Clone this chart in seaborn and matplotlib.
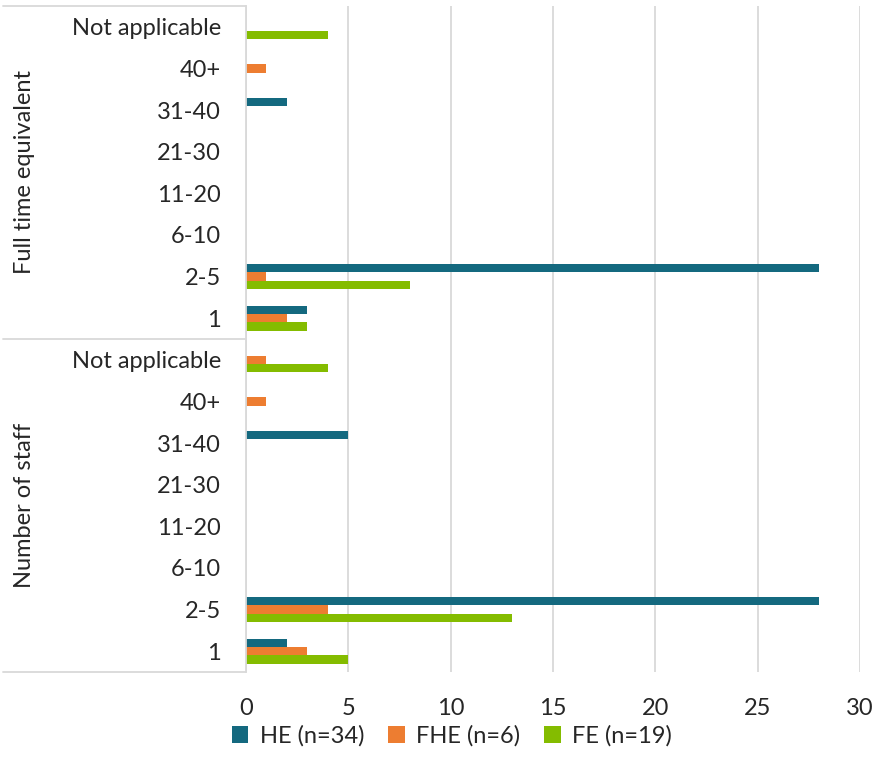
"""Grouped horizontal bar chart: staff numbers and FTE by institution type."""

import matplotlib
matplotlib.use("Agg")
import matplotlib.pyplot as plt
import matplotlib.transforms as mtransforms
import pandas as pd
import seaborn as sns

groups = ["Full time equivalent", "Number of staff"]
bands = ["Not applicable", "40+", "31-40", "21-30", "11-20", "6-10", "2-5", "1"]
series = ["HE (n=34)", "FHE (n=6)", "FE (n=19)"]

# values per band, listed top to bottom as they appear
fte_he = [0, 0, 2, 0, 0, 0, 28, 3]
fte_fhe = [0, 1, 0, 0, 0, 0, 1, 2]
fte_fe = [4, 0, 0, 0, 0, 0, 8, 3]
staff_he = [0, 0, 5, 0, 0, 0, 28, 2]
staff_fhe = [1, 1, 0, 0, 0, 0, 4, 3]
staff_fe = [4, 0, 0, 0, 0, 0, 13, 5]

colors = ["#14697F", "#ED7D31", "#84BC00"]
grid_color = "#D9D9D9"

sns.set_style("white")
plt.rcParams['font.family'] = ['Lato', 'DejaVu Sans']
plt.rcParams['font.size'] = 17

values = {
    groups[0]: [fte_he, fte_fhe, fte_fe],
    groups[1]: [staff_he, staff_fhe, staff_fe],
}
rows = []
row_order = []
for g in groups:
    for i, band in enumerate(bands):
        key = f"{g}|{band}"
        row_order.append(key)
        for s, vals in zip(series, values[g]):
            rows.append({"row": key, "series": s, "value": vals[i]})
df = pd.DataFrame(rows)

fig = plt.figure(figsize=(8.75, 7.79), dpi=100)
ax = fig.add_axes([246 / 875, 1 - 672 / 779, 614 / 875, 666 / 779])

sns.barplot(data=df, x="value", y="row", hue="series", order=row_order,
            hue_order=series, palette=colors, saturation=1, width=0.6,
            orient="h", linewidth=0, ax=ax)
handles, labels = ax.get_legend_handles_labels()
ax.get_legend().remove()

ax.set_xlim(0, 30)
ax.set_ylim(len(row_order) - 0.5, -0.5)
ax.set_xticks(range(0, 31, 5))
ax.set_yticks(range(len(row_order)))
ax.set_yticklabels(bands * len(groups))
ax.set_xlabel('')
ax.set_ylabel('')
ax.tick_params(axis='both', length=0)
ax.tick_params(axis='y', pad=18)
ax.tick_params(axis='x', pad=19)
ax.grid(True, axis='x', color=grid_color, linewidth=1.3)
ax.set_axisbelow(True)
for side in ['top', 'right', 'bottom']:
    ax.spines[side].set_visible(False)
ax.spines['left'].set_color(grid_color)
ax.spines['left'].set_linewidth(1.3)

# group separators and labels on the left
trans = mtransforms.blended_transform_factory(fig.transFigure, ax.transData)
x_left = 3 / 875
x_axis = 246 / 875
n = len(bands)
for k in range(len(groups) + 1):
    y = k * n - 0.5
    ax.plot([x_left, x_axis], [y, y], transform=trans, color=grid_color,
            linewidth=1.3, clip_on=False)
for k, g in enumerate(groups):
    ax.text(25 / 875, k * n + (n - 1) / 2, g, transform=trans, rotation=90,
            ha='center', va='center')

fig.legend(handles, labels, loc='center', bbox_to_anchor=(452 / 875, 1 - 736 / 779),
           ncol=3, frameon=False, handlelength=0.7, handleheight=0.7,
           columnspacing=1.0, handletextpad=0.5)

fig.savefig("out.png", dpi=100)
